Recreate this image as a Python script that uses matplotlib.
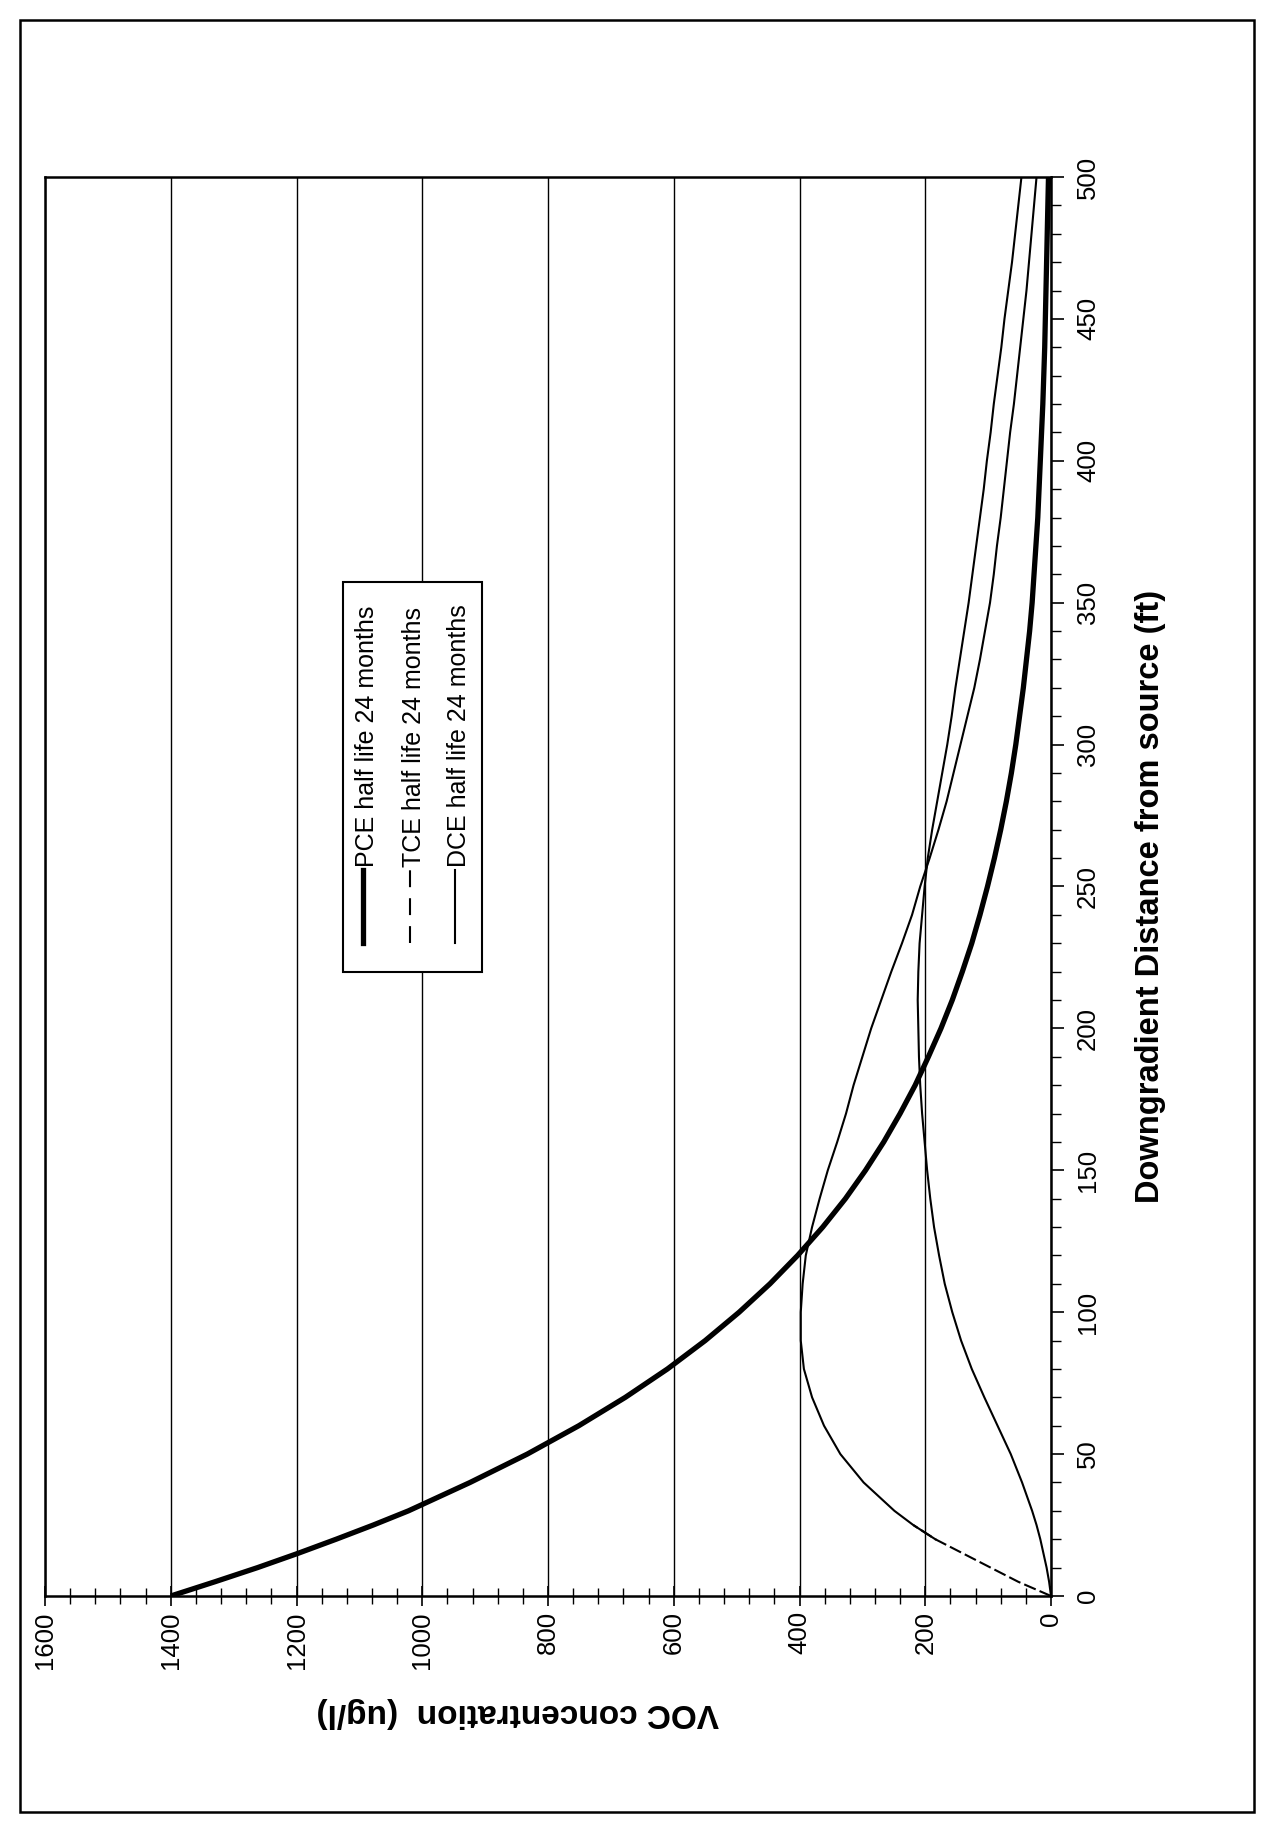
import matplotlib
matplotlib.use("Agg")
import matplotlib.pyplot as plt
from matplotlib.patches import Rectangle
from matplotlib.lines import Line2D
from matplotlib.ticker import MultipleLocator

plt.rcParams['font.family'] = ['Liberation Sans', 'DejaVu Sans']

# Downgradient distance from the source (ft)
distance_ft = [0, 5, 10, 15, 20, 25, 30, 40, 50, 60, 70, 80, 90, 100,
               110, 120, 130, 140, 150, 160, 170, 180, 190, 200,
               210, 220, 230, 240, 250, 260, 270, 280, 290, 300,
               310, 320, 330, 340, 350, 360, 370, 380, 390, 400,
               410, 420, 430, 440, 450, 460, 470, 480, 490, 500]

# VOC concentrations (ug/l)
pce = [1400, 1330, 1262, 1198, 1137, 1078, 1022, 924, 833, 751, 677, 610, 550, 496,
       447, 403, 363, 327, 295, 266, 240, 216, 195, 175,
       157, 141, 126, 113, 101, 90, 80, 71, 63, 56,
       50, 44, 39, 34, 30, 27, 24, 21, 19, 17,
       15, 13, 11.5, 10, 9, 8, 7, 6, 5, 4]

tce = [0, 52, 96, 140, 184, 219, 249, 298, 335, 361, 380, 393, 398, 398,
       395, 390, 380, 368, 355, 340, 326, 314, 300, 286,
       270, 254, 237, 221, 208, 193, 179, 166, 155, 144,
       133, 122, 113, 105, 97, 91, 86, 80, 75, 70,
       65, 59, 54, 49, 44, 39, 35, 31, 27, 23]

dce = [0, 3, 7, 12, 17, 23, 30, 46, 64, 85, 106, 126, 143, 157,
       169, 178, 186, 192, 197, 201, 205, 208, 210, 211,
       212, 211, 209, 205, 201, 196, 189, 181, 173, 165,
       158, 152, 145, 138, 131, 125, 119, 113, 107, 102,
       96, 91, 85, 79, 74, 68, 62, 57, 52, 47]

series_labels = ["PCE half life 24 months",
                 "TCE half life 24 months",
                 "DCE half life 24 months"]

conc_ticks = [0, 200, 400, 600, 800, 1000, 1200, 1400, 1600]
dist_ticks = [0, 50, 100, 150, 200, 250, 300, 350, 400, 450, 500]

W, H = 1261, 1826
fig = plt.figure(figsize=(W / 100, H / 100), dpi=100)
fig.patch.set_facecolor("white")


def fx(x):
    return x / W


def fy(y):
    return 1 - y / H


# page frame
fig.add_artist(Rectangle((fx(20), fy(1812)), (1254 - 20) / W, (1812 - 20) / H,
                         transform=fig.transFigure, fill=False,
                         edgecolor="black", lw=1.8, zorder=0))

# the chart is laid out sideways: concentration runs across, distance runs up
left, right, top, bottom = 45, 1051, 177, 1596
ax = fig.add_axes([fx(left), fy(bottom), (right - left) / W, (bottom - top) / H])
ax.set_xlim(1600, 0)
ax.set_ylim(0, 500)

ax.grid(axis="x", which="major", color="black", lw=1.0, zorder=1)
ax.set_axisbelow(True)

# TCE: dashed near the source, solid further on
tce_near = [(c, d) for c, d in zip(tce, distance_ft) if d <= 25]
tce_far = [(c, d) for c, d in zip(tce, distance_ft) if d >= 20]
ax.plot([c for c, _ in tce_near], [d for _, d in tce_near], color="black",
        lw=1.5, linestyle=(0, (6, 2)), zorder=3)
ax.plot([c for c, _ in tce_far], [d for _, d in tce_far], color="black",
        lw=1.5, zorder=3, solid_joinstyle="round")
ax.plot(dce, distance_ft, color="black", lw=1.5, zorder=3,
        solid_joinstyle="round")
ax.plot(pce, distance_ft, color="black", lw=3.8, zorder=4,
        solid_capstyle="butt", solid_joinstyle="round")

for s in ax.spines.values():
    s.set_linewidth(1.8)

ax.set_xticks(conc_ticks)
ax.set_xticklabels([str(v) for v in conc_ticks])
ax.xaxis.set_minor_locator(MultipleLocator(40))
ax.tick_params(axis="x", which="major", direction="inout", length=14,
               width=1.2, labelsize=18.5, labelrotation=90, pad=4)
ax.tick_params(axis="x", which="minor", direction="inout", length=12,
               width=1.0)

ax.yaxis.tick_right()
ax.set_yticks(dist_ticks)
ax.set_yticklabels([str(v) for v in dist_ticks])
ax.yaxis.set_minor_locator(MultipleLocator(10))
ax.tick_params(axis="y", which="major", direction="out", length=9,
               width=1.2, labelsize=18.5, labelrotation=90, pad=9)
ax.tick_params(axis="y", which="minor", direction="out", length=7,
               width=1.0)
for lbl in ax.get_yticklabels():
    lbl.set_verticalalignment("center")
    lbl.set_horizontalalignment("left")

# axis titles
fig.text(fx(518), fy(1712), "VOC concentration  (ug/l)", rotation=180,
         ha="center", va="center", fontsize=24, fontweight="bold")
fig.text(fx(1150), fy(896), "Downgradient Distance from source (ft)",
         rotation=90, ha="center", va="center", fontsize=23.5,
         fontweight="bold")

# legend box
fig.add_artist(Rectangle((fx(343), fy(972)), (482 - 343) / W, (972 - 582) / H,
                         transform=fig.transFigure, facecolor="white",
                         edgecolor="black", lw=1.5, zorder=5))
handle_x = [363, 410, 455]
handle_styles = [dict(lw=3.8), dict(lw=1.5, linestyle=(0, (8.1, 5.3))),
                 dict(lw=1.5)]
for hx, style, label in zip(handle_x, handle_styles, series_labels):
    fig.add_artist(Line2D([fx(hx), fx(hx)], [fy(943), fy(870)],
                          transform=fig.transFigure, color="black",
                          zorder=6, **style))
    fig.text(fx(hx + 4), fy(867), label, rotation=90, ha="center",
             va="bottom", fontsize=18, zorder=6)

fig.savefig("out.png", dpi=100, facecolor="white")
